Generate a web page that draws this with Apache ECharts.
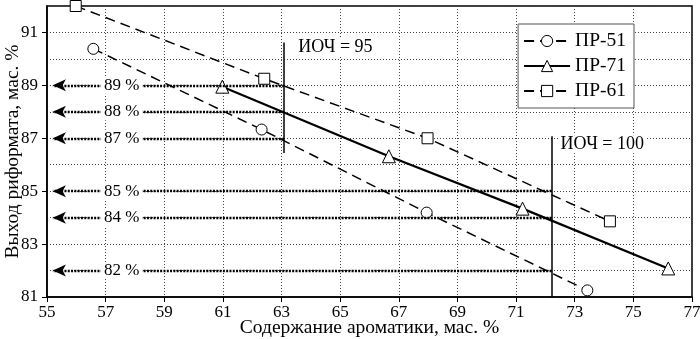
<!DOCTYPE html>
<html><head><meta charset="utf-8">
<script src="https://cdn.jsdelivr.net/npm/echarts@6/dist/echarts.min.js"></script>
<style>html,body{margin:0;padding:0;background:#fff}#c{width:700px;height:339px}</style>
</head><body><div id="c"></div>
<script>
const seriesNames = ['ПР-51', 'ПР-71', 'ПР-61'];
const pr51X = [56.58, 62.32, 67.95, 73.43];
const pr51Y = [90.38, 87.33, 84.19, 81.25];
const pr71X = [60.98, 66.66, 71.22, 76.19];
const pr71Y = [88.95, 86.32, 84.34, 82.08];
const pr61X = [55.98, 62.41, 67.98, 74.20];
const pr61Y = [92.00, 89.25, 87.00, 83.86];
const xTickLabels = [55, 57, 59, 61, 63, 65, 67, 69, 71, 73, 75, 77];
const yTickLabels = [81, 83, 85, 87, 89, 91];
const yieldLevels = [89, 88, 87, 85, 84, 82];
const yieldFromX = [63.09, 63.09, 63.09, 72.21, 72.21, 72.21];
const octaneNames = ['ИОЧ = 95', 'ИОЧ = 100'];
const octaneX = [63.09, 72.21];
const octaneYLow = [86.44, 81.0];
const octaneYHigh = [90.62, 87.08];

const FONT = 'Liberation Serif';
const zip = (xs, ys) => xs.map((x, i) => [x, ys[i]]);

const chart = echarts.init(document.getElementById('c'), null, {renderer: 'canvas'});

const arrowLines = yieldLevels.map((lv, i) => [
  {coord: [yieldFromX[i], lv], symbol: 'none'},
  {coord: [55.2, lv], symbol: 'arrow'}
]);
const octaneLines = octaneX.map((x, i) => [
  {coord: [x, octaneYLow[i]], symbol: 'none'},
  {coord: [x, octaneYHigh[i]], symbol: 'none'}
]);

const gridLine = {show: true, lineStyle: {color: '#444', type: [1, 2], width: 1}};
const txt = (size) => ({fontFamily: FONT, fontSize: size, color: '#000'});

const option = {
  animation: false,
  backgroundColor: '#fff',
  textStyle: {fontFamily: FONT, color: '#000'},
  grid: {left: 47, right: 8, top: 6, bottom: 42, containLabel: false, outerBoundsMode: 'none',
         show: true, borderColor: '#000', borderWidth: 1.5, backgroundColor: '#fff'},
  legend: {
    orient: 'vertical', right: 66, top: 24,
    data: seriesNames,
    backgroundColor: '#fff', borderColor: '#555', borderWidth: 1,
    padding: [7, 8, 7, 5], itemGap: 5, itemWidth: 46, itemHeight: 14,
    itemStyle: {color: '#fff', borderColor: '#000', borderWidth: 1},
    textStyle: txt(19.5)
  },
  xAxis: {
    type: 'value', min: 55, max: 77, interval: 1,
    name: 'Содержание ароматики, мас. %', nameLocation: 'middle', nameGap: 21, nameMoveOverlap: false,
    nameTextStyle: txt(19.5),
    axisLine: {lineStyle: {color: '#000', width: 1.5}},
    axisTick: {show: true, length: 5, customValues: xTickLabels, lineStyle: {color: '#000'}},
    axisLabel: Object.assign({customValues: xTickLabels, margin: 7}, txt(17)),
    splitLine: gridLine
  },
  yAxis: [{
    type: 'value', min: 81, max: 92, interval: 1,
    name: 'Выход риформата, мас. %', nameLocation: 'middle', nameGap: 24, nameMoveOverlap: false,
    nameTextStyle: txt(19.5),
    axisLine: {lineStyle: {color: '#000', width: 1.5}},
    axisTick: {show: true, length: 5, customValues: yTickLabels, lineStyle: {color: '#000'}},
    axisLabel: Object.assign({customValues: yTickLabels, margin: 9}, txt(17)),
    splitLine: {show: false}
  }, {
    type: 'value', min: 81, max: 92, interval: 1, position: 'left',
    axisLine: {show: false}, axisTick: {show: false}, axisLabel: {show: false},
    splitLine: gridLine
  }],
  series: [
    {
      name: 'guides', type: 'line', data: [], z: 3,
      markLine: {
        silent: true, animation: false, symbolSize: [9, 13],
        label: {show: false},
        lineStyle: {color: '#000', type: [2, 1.3], width: 2.4, opacity: 1},
        data: arrowLines
      }
    },
    {
      name: 'octane', type: 'line', data: [], z: 3,
      markLine: {
        silent: true, animation: false, symbol: 'none',
        label: {show: false},
        lineStyle: {color: '#000', type: 'solid', width: 1.5, opacity: 1},
        data: octaneLines
      }
    },
    {
      name: seriesNames[0], type: 'line', z: 4,
      data: zip(pr51X, pr51Y),
      symbol: 'circle', symbolSize: 11,
      itemStyle: {color: '#fff', borderColor: '#000', borderWidth: 1},
      lineStyle: {color: '#000', width: 1.5, type: [10, 6]}
    },
    {
      name: seriesNames[1], type: 'line', z: 4,
      data: zip(pr71X, pr71Y),
      symbol: 'triangle', symbolSize: 13,
      itemStyle: {color: '#fff', borderColor: '#000', borderWidth: 1},
      lineStyle: {color: '#000', width: 2.2, type: 'solid'}
    },
    {
      name: seriesNames[2], type: 'line', z: 4,
      data: zip(pr61X, pr61Y),
      symbol: 'rect', symbolSize: 11,
      itemStyle: {color: '#fff', borderColor: '#000', borderWidth: 1},
      lineStyle: {color: '#000', width: 1.5, type: [10, 6]}
    },
    {
      name: 'yieldLabels', type: 'scatter', z: 6, symbolSize: 0, silent: true,
      itemStyle: {color: '#fff', opacity: 1},
      data: yieldLevels.map(lv => ({value: [57.55, lv], label: {formatter: lv + ' %'}})),
      label: Object.assign({show: true, position: 'inside', backgroundColor: '#fff', padding: [0, 3], opacity: 1}, txt(17))
    },
    {
      name: 'octaneLabels', type: 'scatter', z: 6, symbolSize: 0, silent: true,
      itemStyle: {color: '#fff', opacity: 1},
      data: [
        {value: [63.5, 90.43], label: {formatter: octaneNames[0]}},
        {value: [72.45, 86.77], label: {formatter: octaneNames[1]}}
      ],
      label: Object.assign({show: true, position: 'right', distance: 0, backgroundColor: '#fff', padding: [0, 2], opacity: 1}, txt(18))
    }
  ]
};
chart.setOption(option);
</script></body></html>
